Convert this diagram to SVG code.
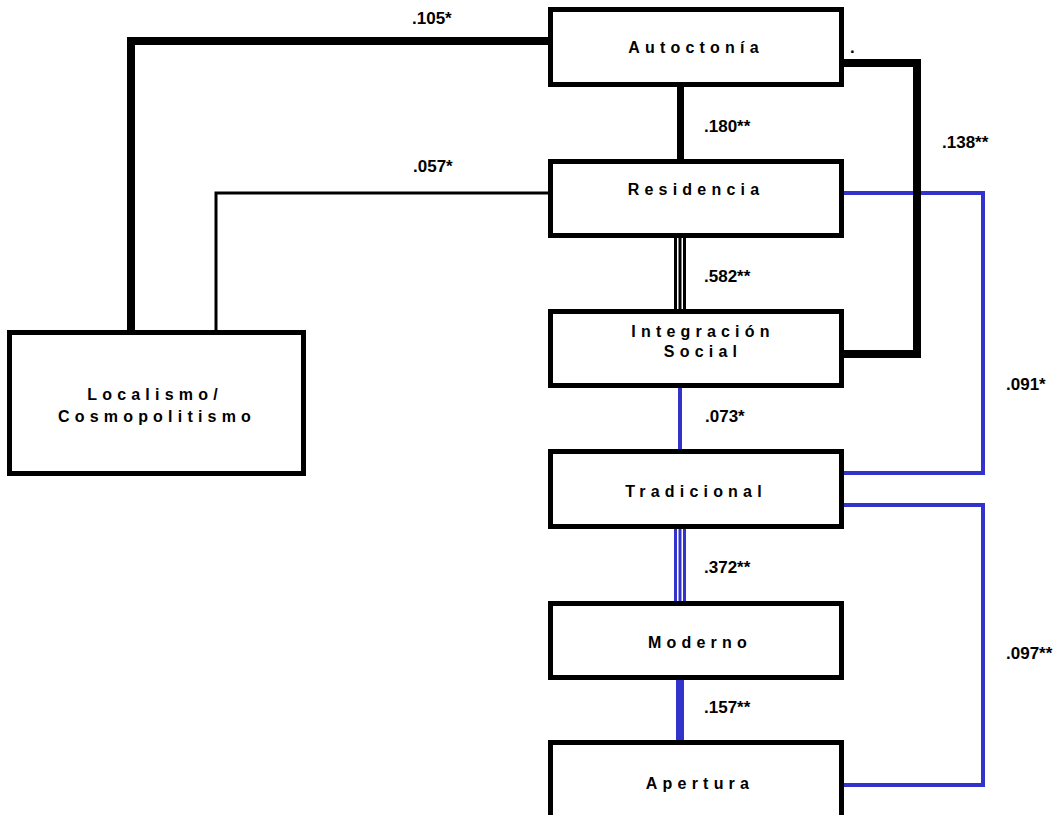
<svg xmlns="http://www.w3.org/2000/svg" width="1055" height="815" viewBox="0 0 1055 815">
<style>
.box{fill:#fff;stroke:#000;stroke-width:5}
.nl{font-family:"Liberation Sans",Arial,sans-serif;font-weight:bold;font-size:16px;letter-spacing:5.2px;text-anchor:middle;fill:#000}
.el{font-family:"Liberation Sans",Arial,sans-serif;font-weight:bold;font-size:17px;fill:#000}
.k{fill:none;stroke:#000}
.b{fill:none;stroke:#3333cc}
</style>
<rect width="1055" height="815" fill="#fff"/>
<g id="connectors">
<line class="k" x1="680.5" y1="87" x2="680.5" y2="159" stroke-width="7"/>
<line class="k" x1="675.5" y1="238" x2="675.5" y2="309" stroke-width="3"/>
<line class="k" x1="680" y1="238" x2="680" y2="309" stroke-width="3"/>
<line class="k" x1="684.5" y1="238" x2="684.5" y2="309" stroke-width="3"/>
<line class="b" x1="680" y1="388" x2="680" y2="449" stroke-width="4"/>
<line class="b" x1="675.5" y1="529" x2="675.5" y2="601" stroke-width="3"/>
<line class="b" x1="680" y1="529" x2="680" y2="601" stroke-width="3"/>
<line class="b" x1="684.5" y1="529" x2="684.5" y2="601" stroke-width="3"/>
<line class="b" x1="680" y1="680" x2="680" y2="740" stroke-width="8"/>
<polyline class="k" points="548,41 131,41 131,330" stroke-width="8"/>
<polyline class="k" points="548,193 216,193 216,330" stroke-width="3"/>
<polyline class="b" points="844,193 983,193 983,473 844,473" stroke-width="4"/>
<polyline class="b" points="844,505 983,505 983,785 844,785" stroke-width="4"/>
<polyline class="k" points="844,63 917,63 917,354 844,354" stroke-width="8"/>
<text class="el" x="412" y="24">.105*</text>
<text class="el" x="413" y="172">.057*</text>
<text class="el" x="704" y="132">.180**</text>
<text class="el" x="704" y="282">.582**</text>
<text class="el" x="705" y="422">.073*</text>
<text class="el" x="704" y="573">.372**</text>
<text class="el" x="704" y="713">.157**</text>
<text class="el" x="942" y="148">.138**</text>
<text class="el" x="1006" y="390">.091*</text>
<text class="el" x="1006" y="659">.097**</text>
<text class="el" x="850" y="53" font-size="10">.</text>
</g>
<g id="autoctonia">
<rect class="box" x="550.5" y="9.5" width="291" height="75"/>
<text class="nl" x="696" y="53">Autoctonía</text>
</g>
<g id="residencia">
<rect class="box" x="550.5" y="161.5" width="291" height="74"/>
<text class="nl" x="696" y="195">Residencia</text>
</g>
<g id="integracion">
<rect class="box" x="550.5" y="311.5" width="291" height="74"/>
<text class="nl" x="703" y="337">Integración</text>
<text class="nl" x="703" y="357">Social</text>
</g>
<g id="tradicional">
<rect class="box" x="550.5" y="451.5" width="291" height="75"/>
<text class="nl" x="696" y="497">Tradicional</text>
</g>
<g id="moderno">
<rect class="box" x="550.5" y="603.5" width="291" height="74"/>
<text class="nl" x="700" y="648">Moderno</text>
</g>
<g id="apertura">
<rect class="box" x="550.5" y="742.5" width="291" height="100"/>
<text class="nl" x="700" y="789">Apertura</text>
</g>
<g id="localismo">
<rect class="box" x="9.5" y="332.5" width="294" height="141"/>
<text class="nl" x="155" y="400">Localismo/</text>
<text class="nl" x="157" y="422">Cosmopolitismo</text>
</g>
</svg>
